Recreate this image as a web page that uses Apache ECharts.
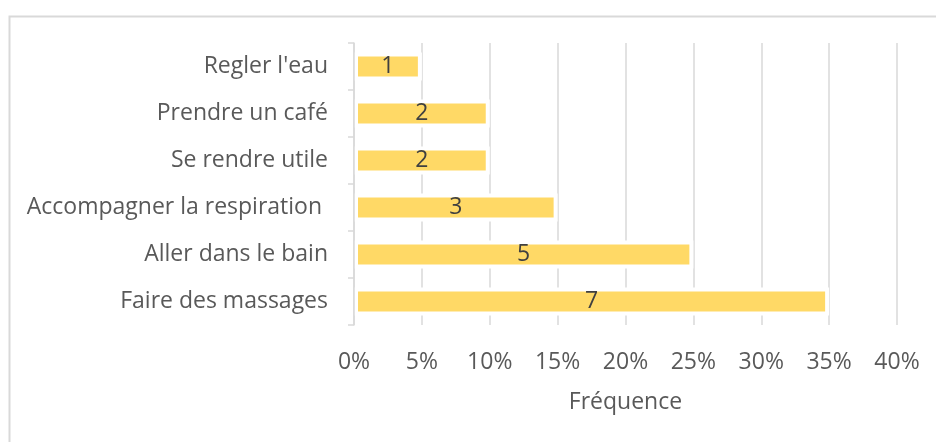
<!DOCTYPE html>
<html lang="fr">

<head>
  <meta charset="UTF-8" />
  <title>Fréquence</title>
  <script src="https://cdn.jsdelivr.net/npm/echarts@6/dist/echarts.min.js"></script>
  <style>
    body,
    html {
      margin: 0;
      padding: 0;
      width: 100%;
      height: 100%;
      overflow: hidden;
      background: #fff;
    }

    #chart {
      width: 936px;
      height: 442px;
    }
  </style>
</head>

<body>
  <div id="chart"></div>
</body>
<script>
  // categories, top to bottom
  var categories = ['Regler l\'eau', 'Prendre un café', 'Se rendre utile',
    'Accompagner la respiration ', 'Aller dans le bain', 'Faire des massages'];
  // number of answers (shown in the bars)
  var counts = [1, 2, 2, 3, 5, 7];
  // frequency (bar length)
  var frequencies = [0.05, 0.10, 0.10, 0.15, 0.25, 0.35];
  var xTicks = { min: 0, max: 0.4, interval: 0.05 };

  var font = '"Open Sans", "Noto Sans", sans-serif';
  var textGray = '#595959';
  var lineGray = '#d9d9d9';

  var myChart = echarts.init(document.getElementById('chart'));

  var option = {
    backgroundColor: '#ffffff',
    animation: false,
    graphic: [{
      type: 'rect',
      left: 7,
      top: 14,
      shape: { width: 1000, height: 1000 },
      style: { fill: 'none', stroke: lineGray, lineWidth: 2 },
      silent: true
    }],
    grid: {
      left: 354,
      right: 39,
      top: 43,
      bottom: 117,
      containLabel: false
    },
    xAxis: {
      type: 'value',
      min: xTicks.min,
      max: xTicks.max,
      interval: xTicks.interval,
      name: 'Fréquence',
      nameLocation: 'middle',
      nameGap: 66,
      nameTextStyle: { color: textGray, fontSize: 23, fontFamily: font },
      axisLine: { show: false },
      axisTick: { show: false },
      axisLabel: {
        color: textGray,
        fontSize: 23,
        fontFamily: font,
        margin: 26,
        formatter: function (v) {
          return Math.round(v * 100) + '%';
        }
      },
      splitLine: { show: true, lineStyle: { color: lineGray, width: 1.5 } }
    },
    yAxis: {
      type: 'category',
      inverse: true,
      data: categories,
      z: 10,
      axisLine: { show: true, lineStyle: { color: lineGray, width: 1.5 } },
      axisTick: { show: true, length: 6, lineStyle: { color: lineGray, width: 1.5 } },
      axisLabel: {
        color: textGray,
        fontSize: 23,
        fontFamily: font,
        margin: 26,
        padding: [4, 0, 0, 0]
      },
      splitLine: { show: false }
    },
    series: [{
      type: 'bar',
      data: frequencies.map(function (f, i) {
        return { value: f, count: counts[i] };
      }),
      barWidth: 28,
      itemStyle: {
        color: '#ffd966',
        borderColor: '#ffffff',
        borderWidth: 4
      },
      label: {
        show: true,
        position: 'inside',
        color: '#404040',
        fontSize: 23,
        fontFamily: font,
        padding: [4, 0, 0, 0],
        formatter: function (p) {
          return p.data.count;
        }
      }
    }]
  };

  myChart.setOption(option);
</script>

</html>
